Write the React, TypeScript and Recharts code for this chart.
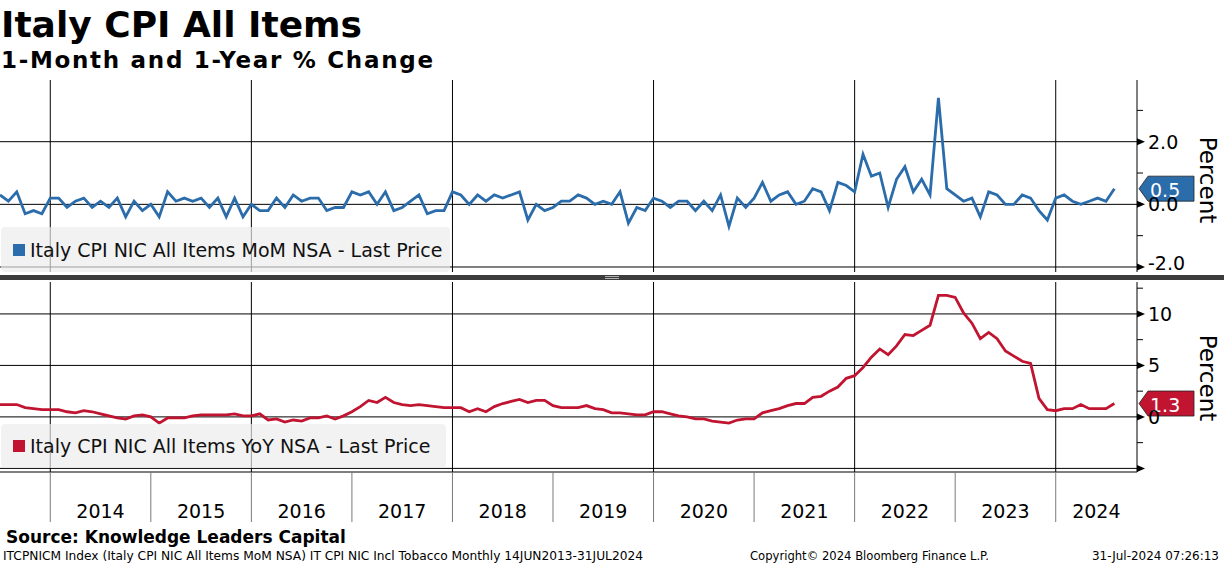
import React from 'react';
import { LineChart, Line, XAxis, YAxis, CartesianGrid, ReferenceLine, Legend } from 'recharts';

// monthly observations, Jun 2013 .. Jul 2024
const startYear = 2013;
const startMonth = 6;

const momValues = [
  0.3, 0.1, 0.4, -0.3, -0.2, -0.3, 0.2,
  0.2, -0.1, 0.1, 0.2, -0.1, 0.1, -0.1, 0.2, -0.4, 0.1, -0.2, 0.0,
  -0.4, 0.4, 0.1, 0.2, 0.1, 0.2, -0.1, 0.2, -0.4, 0.2, -0.4, 0.0,
  -0.2, -0.2, 0.2, -0.1, 0.3, 0.1, 0.2, 0.2, -0.2, -0.1, -0.1, 0.4,
  0.3, 0.4, 0.0, 0.4, -0.2, -0.1, 0.1, 0.3, -0.3, -0.2, -0.2, 0.4,
  0.3, 0.0, 0.3, 0.1, 0.3, 0.2, 0.3, 0.4, -0.5, 0.0, -0.2, -0.1,
  0.1, 0.1, 0.3, 0.2, 0.0, 0.1, 0.0, 0.4, -0.6, -0.1, -0.2, 0.2,
  0.1, -0.1, 0.1, 0.1, -0.2, 0.1, -0.2, 0.3, -0.7, 0.2, -0.1, 0.2,
  0.7, 0.1, 0.3, 0.4, 0.0, 0.1, 0.5, 0.4, -0.2, 0.7, 0.6, 0.4,
  1.6, 0.9, 1.0, -0.1, 0.8, 1.2, 0.4, 0.8, 0.3, 3.4, 0.5, 0.3,
  0.1, 0.2, -0.4, 0.4, 0.3, 0.0, 0.0, 0.3, 0.2, -0.2, -0.5, 0.2,
  0.3, 0.1, 0.0, 0.1, 0.2, 0.1, 0.5,
];

const yoyValues = [
  1.2, 1.2, 1.2, 0.9, 0.8, 0.7, 0.7,
  0.7, 0.5, 0.4, 0.6, 0.5, 0.3, 0.1, -0.1, -0.2, 0.1, 0.2, 0.0,
  -0.6, -0.1, -0.1, -0.1, 0.1, 0.2, 0.2, 0.2, 0.2, 0.3, 0.1, 0.1,
  0.3, -0.3, -0.2, -0.5, -0.3, -0.4, -0.1, -0.1, 0.1, -0.2, 0.1, 0.5,
  1.0, 1.6, 1.4, 1.9, 1.4, 1.2, 1.1, 1.2, 1.1, 1.0, 0.9, 0.9,
  0.9, 0.5, 0.8, 0.5, 1.0, 1.3, 1.5, 1.7, 1.4, 1.6, 1.6, 1.1,
  0.9, 0.9, 0.9, 1.1, 0.8, 0.7, 0.4, 0.4, 0.3, 0.2, 0.2, 0.5,
  0.5, 0.3, 0.1, 0.0, -0.2, -0.2, -0.4, -0.5, -0.6, -0.3, -0.2, -0.2,
  0.4, 0.6, 0.8, 1.1, 1.3, 1.3, 1.9, 2.0, 2.5, 2.9, 3.75, 4.0,
  4.8, 5.8, 6.6, 6.05, 6.9, 8.0, 7.9, 8.4, 8.9, 11.8, 11.8, 11.6,
  10.1, 9.1, 7.6, 8.2, 7.6, 6.4, 5.9, 5.4, 5.2, 1.8, 0.7, 0.6,
  0.8, 0.8, 1.2, 0.8, 0.8, 0.8, 1.3,
];

const yearLabels = ['2014', '2015', '2016', '2017', '2018', '2019', '2020', '2021', '2022', '2023', '2024'];
const momTicks = [-2, -1, 0, 1, 2, 3];
const yoyTicks = [-5, -2.5, 0, 2.5, 5, 7.5, 10, 12.5];
const momGrid = [-2, 0, 2];
const yoyGrid = [-5, 0, 5, 10];

const MOM_NAME = 'Italy CPI NIC All Items MoM NSA - Last Price';
const YOY_NAME = 'Italy CPI NIC All Items YoY NSA - Last Price';

const BLUE = '#2b6cab';
const RED = '#c01431';
const FONT = '"DejaVu Sans", Verdana, sans-serif';

const W = 1224;
const AXIS_W = 87;
const X_DOMAIN: [number, number] = [0, 135.7];
const PX_PER_MONTH = (W - AXIS_W) / (X_DOMAIN[1] - X_DOMAIN[0]);

const data = momValues.map((mom, i) => {
  const m = startMonth - 1 + i;
  return {
    i,
    month: `${startYear + Math.floor(m / 12)}-${String((m % 12) + 1).padStart(2, '0')}`,
    mom,
    yoy: yoyValues[i],
  };
});

// index of the December observation closing the previous year
const yearStarts = yearLabels.map((y) => data.findIndex((d) => d.month === `${Number(y) - 1}-12`));
const evenYearStarts = yearStarts.filter((_, k) => k % 2 === 0);

const makeYTick = (isMajor: (v: number) => boolean, fmt: (v: number) => string, lowest: number) => (props: any) => {
  const { x, y, payload } = props;
  const v = payload.value;
  if (!isMajor(v)) {
    return <line x1={x} y1={y} x2={x + 6} y2={y} stroke="#000" />;
  }
  const label = fmt(v);
  // the bottom label sits a little higher so it clears the panel edge
  const ty = v === lowest ? y - 4 : y;
  return (
    <g>
      <path d={`M${x},${y - 3.5} L${x + 8},${y} L${x},${y + 3.5} Z`} fill="#000" />
      {label && (
        <text x={x + 11} y={ty} dominantBaseline="central" fontSize={19} fontFamily={FONT} fill="#000">
          {label}
        </text>
      )}
    </g>
  );
};

const momTick = makeYTick((v) => v % 2 === 0, (v) => v.toFixed(1), -2);
const yoyTick = makeYTick((v) => v % 5 === 0, (v) => (v >= 0 ? String(v) : ''), -5);

const YearTick = (props: any) => {
  const { x, y, payload } = props;
  const k = yearStarts.indexOf(payload.value);
  const plotRight = W - AXIS_W;
  const cx = Math.min(x + 6 * PX_PER_MONTH, (x + plotRight) / 2);
  return (
    <g>
      <line x1={x} y1={y} x2={x} y2={y + 50} stroke="#7a7a7a" />
      <text x={cx} y={y + 46} textAnchor="middle" fontSize={19} fontFamily={FONT} fill="#000">
        {yearLabels[k]}
      </text>
    </g>
  );
};

const PercentLabel = (props: any) => {
  const vb = props.viewBox || {};
  const x = vb.x + 71;
  const y = vb.y + vb.height / 2 + (props.dy || 0);
  return (
    <text x={x} y={y} transform={`rotate(90, ${x}, ${y})`} textAnchor="middle" dominantBaseline="central"
      fontSize={23} fontFamily={FONT} fill="#000">
      Percent
    </text>
  );
};

const Badge = (props: any) => {
  const { viewBox, text, color } = props;
  if (!viewBox) return null;
  const tip = viewBox.x + viewBox.width + 2;
  const cy = viewBox.y;
  return (
    <g>
      <path
        d={`M${tip},${cy} L${tip + 9},${cy - 12.5} L${tip + 55},${cy - 12.5} L${tip + 55},${cy + 12.5} L${tip + 9},${cy + 12.5} Z`}
        fill={color} stroke="#222" strokeWidth={0.8}
      />
      <text x={tip + 11} y={cy + 1} dominantBaseline="central" fontSize={19} fontFamily={FONT} fill="#fff">
        {text}
      </text>
    </g>
  );
};

const LegendBox = (props: any) => {
  const item = (props.payload || [])[0];
  if (!item) return null;
  return (
    <div style={{
      width: '100%', height: '100%', boxSizing: 'border-box', background: 'rgba(236,236,236,0.68)',
      borderRadius: 4, display: 'flex', alignItems: 'center', paddingLeft: 12,
      fontFamily: FONT, fontSize: 19, color: '#111', whiteSpace: 'nowrap',
    }}>
      <span style={{ display: 'inline-block', width: 12, height: 12, background: item.color, marginRight: 5 }} />
      {item.value}
    </div>
  );
};

export default function App() {
  const lastMom = momValues[momValues.length - 1];
  const lastYoy = yoyValues[yoyValues.length - 1];
  return (
    <div style={{ position: 'absolute', left: 0, top: 0, width: W, height: 566, background: '#fff', overflow: 'hidden', fontFamily: FONT }}>
      <svg width={W} height={566} style={{ position: 'absolute', left: 0, top: 0 }} fontFamily={FONT}>
        <text x={1} y={37} fontSize={36} fontWeight="bold" fill="#000">Italy CPI All Items</text>
        <text x={1} y={68} fontSize={23} fontWeight="bold" letterSpacing={1.7} fill="#000">1-Month and 1-Year % Change</text>
        <rect x={0} y={275} width={W} height={5} fill="#3c3c3c" />
        <rect x={605} y={276} width={14} height={1} fill="#b0b0b0" />
        <rect x={605} y={278} width={14} height={1} fill="#b0b0b0" />
        <text x={6} y={543} fontSize={17} fontWeight="bold" fill="#000">Source: Knowledge Leaders Capital</text>
        <text x={3} y={560} fontSize={12.5} textLength={640} lengthAdjust="spacingAndGlyphs" fill="#000">
          ITCPNICM Index (Italy CPI NIC All Items MoM NSA) IT CPI NIC Incl Tobacco  Monthly 14JUN2013-31JUL2024
        </text>
        <text x={750} y={560} fontSize={12.5} textLength={239} lengthAdjust="spacingAndGlyphs" fill="#000">
          Copyright© 2024 Bloomberg Finance L.P.
        </text>
        <text x={1092} y={560} fontSize={12.5} textLength={127} lengthAdjust="spacingAndGlyphs" fill="#000">
          31-Jul-2024 07:26:13
        </text>
      </svg>

      {/* 1-month panel */}
      <div style={{ position: 'absolute', left: 0, top: 80 }}>
        <LineChart width={W} height={195} data={data} margin={{ top: 0, right: 0, bottom: 3, left: 0 }}>
          <CartesianGrid stroke="#000" horizontalValues={momGrid} verticalValues={evenYearStarts} />
          <XAxis type="number" dataKey="i" domain={X_DOMAIN} hide allowDataOverflow />
          <YAxis
            orientation="right" width={AXIS_W} domain={[-2.16, 3.97]} ticks={momTicks} interval={0}
            allowDataOverflow tickSize={0} tickMargin={0} tickLine={false} axisLine={{ stroke: '#000' }}
            tick={momTick} label={<PercentLabel dy={4} />}
          />
          <Legend layout="horizontal" verticalAlign="middle" align="center" content={<LegendBox />}
            wrapperStyle={{ left: 1, top: 147, width: 449, height: 45 }} />
          <ReferenceLine y={lastMom} stroke="none" label={<Badge text={lastMom.toFixed(1)} color={BLUE} />} />
          <Line type="linear" dataKey="mom" name={MOM_NAME} stroke={BLUE} strokeWidth={2.8} dot={false} isAnimationActive={false} />
        </LineChart>
      </div>

      {/* 1-year panel */}
      <div style={{ position: 'absolute', left: 0, top: 282 }}>
        <LineChart width={W} height={240} data={data} margin={{ top: 0, right: 0, bottom: 0, left: 0 }}>
          <CartesianGrid stroke="#000" horizontalValues={yoyGrid} verticalValues={evenYearStarts} />
          <XAxis
            type="number" dataKey="i" domain={X_DOMAIN} allowDataOverflow ticks={yearStarts} interval={0}
            height={50} tickSize={0} tickMargin={0} tickLine={false} axisLine={{ stroke: '#000' }} tick={YearTick}
          />
          <YAxis
            orientation="right" width={AXIS_W} domain={[-5.35, 13.1]} ticks={yoyTicks} interval={0}
            allowDataOverflow tickSize={0} tickMargin={0} tickLine={false} axisLine={{ stroke: '#000' }}
            tick={yoyTick} label={<PercentLabel dy={1} />}
          />
          <Legend layout="horizontal" verticalAlign="middle" align="center" content={<LegendBox />}
            wrapperStyle={{ left: 1, top: 142, width: 445, height: 44 }} />
          <ReferenceLine y={lastYoy} stroke="none" label={<Badge text={lastYoy.toFixed(1)} color={RED} />} />
          <Line type="linear" dataKey="yoy" name={YOY_NAME} stroke={RED} strokeWidth={2.8} dot={false} isAnimationActive={false} />
        </LineChart>
      </div>
    </div>
  );
}
